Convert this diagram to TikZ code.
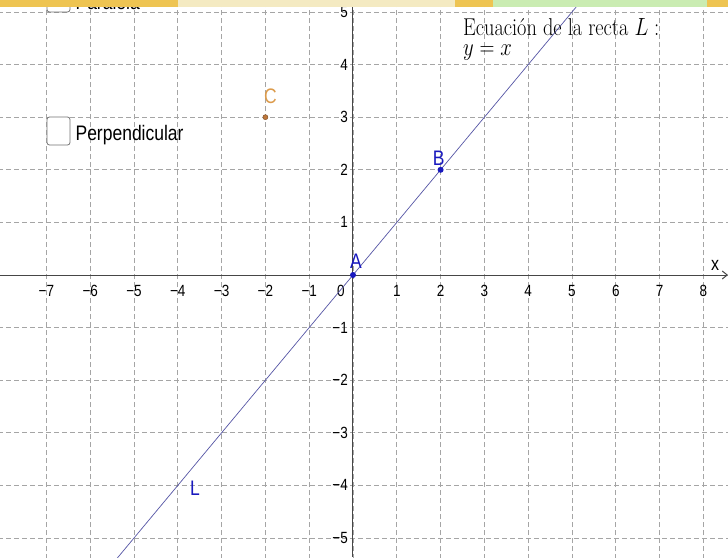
\documentclass[tikz,border=0pt]{standalone}
\usepackage{fontspec}
\setsansfont{Liberation Sans}
\usepackage{amsmath}
\usetikzlibrary{arrows.meta, positioning}
\definecolor{gris}{RGB}{165,165,165}
\definecolor{ejes}{RGB}{70,70,70}
\definecolor{recta}{RGB}{85,85,165}
\definecolor{azul}{RGB}{25,25,190}
\definecolor{naranja}{RGB}{220,155,75}
\definecolor{marron}{RGB}{190,120,60}
\definecolor{amarillo}{RGB}{238,196,82}
\definecolor{crema}{RGB}{244,234,194}
\definecolor{verde}{RGB}{202,236,178}
\definecolor{borde}{RGB}{115,115,115}
\tikzset{
	rejilla/.style={gris, dash pattern=on 5pt off 3pt, line width=0.7pt},
	num/.style={font=\sffamily\fontsize{13.5}{15}\selectfont, yscale=1.2, inner sep=1pt},
	etiq/.style={font=\sffamily\fontsize{17.5}{20}\selectfont, yscale=1.2, inner sep=1pt},
	texto/.style={font=\fontsize{20.3}{22}\selectfont, yscale=1.2, inner sep=0pt},
	punto/.style={circle, fill=azul, inner sep=0pt, minimum size=6pt},
	puntoC/.style={circle, draw=marron!70!black, fill=marron, line width=0.5pt, inner sep=0pt, minimum size=5pt},
	casilla/.style={draw=borde, fill=white, rounded corners=2.5pt, line width=0.8pt, minimum width=23pt, minimum height=28pt, inner sep=0pt},
}
\begin{document}
\begin{tikzpicture}[x=43.8pt, y=52.6pt]
	\useasboundingbox (-353pt,-282pt) rectangle (375pt,275pt);
	\clip (-353pt,-282pt) rectangle (375pt,275pt);
	\fill[white] (-353pt,-282pt) rectangle (375pt,275pt);
	% cuadricula
	\foreach \i in {-7,...,8}
	\draw[rejilla] (\i,-5.4) -- (\i,5.3);
	\foreach \j in {-5,...,5}
	\draw[rejilla] (-8.1,\j) -- (8.6,\j);
	% ejes
	\draw[ejes, line width=1pt, -{Straight Barb[length=5pt, width=8pt]}] (-353pt,0) -- (375pt,0);
	\draw[ejes, line width=1pt, -{Straight Barb[length=5pt, width=8pt]}] (0,-282pt) -- (0,275pt);
	\foreach \i in {1,...,8}
	\node[num] (tx\i) at (\i,-16pt) {\i};
	\foreach \i in {1,...,7}
	\node[num] (txm\i) at (-\i,-16pt) {−\i};
	\foreach \j in {1,...,5}
	\node[num, anchor=east] (ty\j) at (-4pt,\j) {\j};
	\foreach \j in {1,...,5}
	\node[num, anchor=east] (tym\j) at (-4pt,-\j) {−\j};
	\node[num] (t0) at (-12pt,-16pt) {0};
	\node[num, font=\sffamily\fontsize{16}{18}\selectfont] (ex) at (362pt,10pt) {x};
	% recta L
	\draw[recta, line width=0.7pt] (-5.5,-5.5) -- (5.4,5.4);
	\node[etiq, azul] (lL) at (-158pt,-213pt) {L};
	% puntos
	\node[punto] (A) at (0,0) {};
	\node[punto] (B) at (2,2) {};
	\node[puntoC] (C) at (-2,3) {};
	\node[etiq, azul, above=2pt of A, xshift=3pt] (lA) {A};
	\node[etiq, azul, above=0pt of B, xshift=-2pt] (lB) {B};
	\node[etiq, naranja, above=9pt of C, xshift=5pt] (lC) {C};
	% casillas
	\node[casilla] (cPar) at (-294.5pt,277pt) {};
	\node[etiq, right=4pt of cPar, yshift=-3pt] (tPar) {Paralela};
	\node[casilla] (cPerp) at (-294.5pt,144pt) {};
	\node[etiq, right=4pt of cPerp, yshift=-3pt] (tPerp) {Perpendicular};
	% ecuacion
	\node[texto, anchor=base west] (ecu) at (110pt,239pt) {Ecuación de la recta $L:$};
	\node[texto, anchor=base west] (ecuy) at (110pt,219pt) {$y=x$};
	% barra superior
	\fill[amarillo] (-353pt,268pt) rectangle (-175pt,275pt);
	\fill[crema] (-175pt,268pt) rectangle (102pt,275pt);
	\fill[amarillo] (102pt,268pt) rectangle (140pt,275pt);
	\fill[verde] (140pt,268pt) rectangle (354pt,275pt);
	\fill[amarillo] (354pt,268pt) rectangle (375pt,275pt);
\end{tikzpicture}
\end{document}
